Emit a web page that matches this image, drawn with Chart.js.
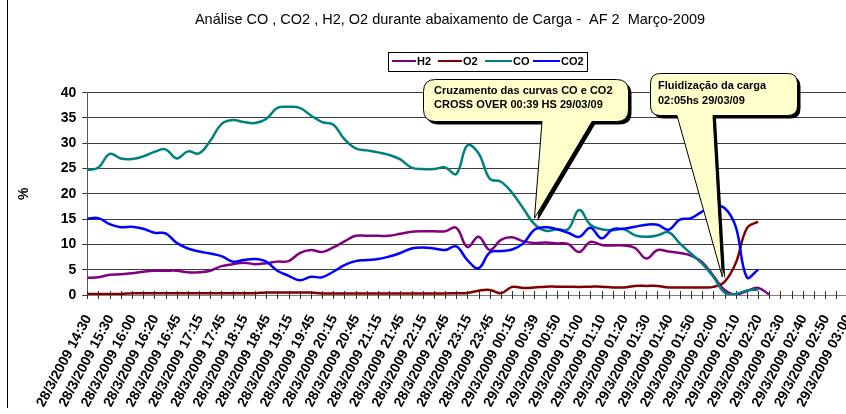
<!DOCTYPE html>
<html>
<head>
<meta charset="utf-8">
<title>Análise CO, CO2, H2, O2 - AF 2</title>
<style>
  html, body { margin: 0; padding: 0; overflow: hidden; background: #ffffff; }
  #wrap { position: relative; width: 900px; height: 414px; }
</style>
<script src="https://cdn.jsdelivr.net/npm/chart.js@4.4.1/dist/chart.umd.min.js"></script>
</head>
<body>
<div id="wrap"><canvas id="chart" width="900" height="414"></canvas></div>
<script>
// Sampling times shown on the category axis (every second sample is labelled)
const tickLabels = [
  '28/3/2009 14:30', '28/3/2009 15:30', '28/3/2009 16:00', '28/3/2009 16:20', '28/3/2009 16:45',
  '28/3/2009 17:15', '28/3/2009 17:45', '28/3/2009 18:15', '28/3/2009 18:45', '28/3/2009 19:15',
  '28/3/2009 19:45', '28/3/2009 20:15', '28/3/2009 20:45', '28/3/2009 21:15', '28/3/2009 21:45',
  '28/3/2009 22:15', '28/3/2009 22:45', '28/3/2009 23:15', '28/3/2009 23:45',
  '29/3/2009 00:15', '29/3/2009 00:39', '29/3/2009 00:50', '29/3/2009 01:00', '29/3/2009 01:10',
  '29/3/2009 01:20', '29/3/2009 01:30', '29/3/2009 01:40', '29/3/2009 01:50', '29/3/2009 02:00',
  '29/3/2009 02:10', '29/3/2009 02:20', '29/3/2009 02:30', '29/3/2009 02:40', '29/3/2009 02:50',
  '29/3/2009 03:00'
];

// Gas analysis, % by volume
const h2 = [3.4, 3.5, 4.0, 4.1, 4.3, 4.6, 4.8, 4.8, 4.8, 4.5,
            4.5, 4.8, 5.7, 6.1, 6.4, 6.1, 6.3, 6.6, 6.7, 8.3,
            8.9, 8.5, 9.4, 10.6, 11.7, 11.7, 11.7, 11.7, 12.1, 12.5,
            12.6, 12.6, 12.6, 13.3, 9.5, 11.5, 8.9, 10.9, 11.4, 10.6,
            10.3, 10.4, 10.2, 10.1, 8.5, 10.5, 9.9, 9.8, 9.8, 9.3,
            7.2, 8.9, 8.6, 8.3, 7.8, 6.5, 3.8, 1.0, 0.1, 0.8,
            1.4, 0.1];
const o2 = [0.2, 0.2, 0.2, 0.2, 0.35, 0.35, 0.35, 0.35, 0.35, 0.35,
            0.35, 0.35, 0.35, 0.35, 0.35, 0.35, 0.5, 0.5, 0.5, 0.5,
            0.5, 0.3, 0.3, 0.3, 0.3, 0.3, 0.3, 0.3, 0.3, 0.3,
            0.3, 0.3, 0.3, 0.35, 0.4, 0.85, 1.0, 0.35, 1.6, 1.4,
            1.5, 1.65, 1.65, 1.65, 1.6, 1.65, 1.65, 1.5, 1.5, 1.8,
            1.8, 1.8, 1.5, 1.5, 1.5, 1.5, 1.6, 2.6, 6.3, 13.2,
            14.5];
const co = [24.7, 25.2, 27.9, 27.0, 26.9, 27.4, 28.3, 28.8, 27.0, 28.4,
            28.0, 30.5, 33.8, 34.6, 34.2, 34.0, 34.8, 37.0, 37.2, 37.0,
            35.5, 34.2, 33.7, 30.8, 29.0, 28.6, 28.2, 27.7, 26.8, 25.2,
            24.9, 24.9, 25.2, 23.9, 29.6, 28.0, 23.0, 22.4, 20.2, 17.1,
            14.0, 12.7, 13.0, 13.0, 16.8, 13.9, 13.0, 12.8, 13.0, 11.8,
            11.5, 11.8, 12.4, 10.2, 8.2, 6.2, 3.6, 0.5, 0.2, 0.9,
            1.1];
const co2 = [15.1, 15.2, 14.0, 13.4, 13.5, 13.1, 12.3, 12.2, 10.3, 9.2,
             8.6, 8.2, 7.7, 6.6, 6.9, 7.1, 6.6, 4.8, 3.8, 2.9,
             3.6, 3.5, 4.6, 5.9, 6.7, 6.9, 7.1, 7.6, 8.3, 9.2,
             9.4, 9.2, 8.9, 9.6, 6.9, 5.3, 8.4, 8.7, 9.0, 10.2,
             12.9, 13.4, 13.0, 12.3, 11.5, 13.3, 11.2, 13.0, 13.1, 13.5,
             13.9, 13.9, 12.9, 14.9, 15.2, 16.5, 17.5, 17.2, 13.5, 3.5,
             5.0];

// One category per sample; only every second one carries a label
const categories = [];
tickLabels.forEach((t, k) => {
  categories.push(t);
  if (k < tickLabels.length - 1) categories.push('');
});

const FONT = "'Liberation Sans', Arial, Helvetica, sans-serif";
Chart.defaults.font.family = FONT;
Chart.defaults.color = '#000';

// Callout notes: [category index, value] of the pointed event
const crossOver = { at: 40, value: 15.2 };
const fluidization = { at: 56.8, value: 3.6 };

function calloutPath(ctx, b, tip, dx, dy) {
  const { x, y, w, h, r, baseL, baseR } = b;
  ctx.beginPath();
  ctx.moveTo(x + r + dx, y + dy);
  ctx.lineTo(x + w - r + dx, y + dy);
  ctx.quadraticCurveTo(x + w + dx, y + dy, x + w + dx, y + r + dy);
  ctx.lineTo(x + w + dx, y + h - r + dy);
  ctx.quadraticCurveTo(x + w + dx, y + h + dy, x + w - r + dx, y + h + dy);
  ctx.lineTo(baseR + dx, y + h + dy);
  ctx.lineTo(tip.x + dx, tip.y + dy);
  ctx.lineTo(baseL + dx, y + h + dy);
  ctx.lineTo(x + r + dx, y + h + dy);
  ctx.quadraticCurveTo(x + dx, y + h + dy, x + dx, y + h - r + dy);
  ctx.lineTo(x + dx, y + r + dy);
  ctx.quadraticCurveTo(x + dx, y + dy, x + r + dx, y + dy);
  ctx.closePath();
}

function drawCallout(ctx, b, tip, lines) {
  ctx.save();
  calloutPath(ctx, b, tip, 3, 3);
  ctx.fillStyle = '#000';
  ctx.fill();
  calloutPath(ctx, b, tip, 0, 0);
  ctx.fillStyle = '#ffffcc';
  ctx.fill();
  ctx.strokeStyle = '#000';
  ctx.lineWidth = 1;
  ctx.stroke();
  ctx.fillStyle = '#000';
  ctx.font = 'bold 11px ' + FONT;
  ctx.textBaseline = 'alphabetic';
  ctx.textAlign = 'left';
  lines.forEach((l) => ctx.fillText(l.text, l.x, l.y));
  ctx.restore();
}

const decor = {
  id: 'decor',
  beforeDatasetsDraw(chart) {
    const { ctx, scales: { x }, chartArea } = chart;
    ctx.save();
    ctx.strokeStyle = '#333';
    ctx.lineWidth = 1;
    ctx.beginPath();
    x.ticks.forEach((t, i) => {
      const px = Math.round(x.getPixelForTick(i)) + 0.5;
      ctx.moveTo(px, chartArea.bottom - 4);
      ctx.lineTo(px, chartArea.bottom + 4);
    });
    ctx.stroke();
    ctx.restore();
  },
  afterDraw(chart) {
    const { ctx, scales: { x, y } } = chart;
    ctx.save();
    // frame edge on the left
    ctx.strokeStyle = '#000';
    ctx.lineWidth = 1;
    ctx.beginPath();
    ctx.moveTo(7.5, 0);
    ctx.lineTo(7.5, 408);
    ctx.stroke();

    // legend box
    ctx.fillStyle = '#fff';
    ctx.fillRect(388.5, 52.5, 199, 19);
    ctx.strokeRect(388.5, 52.5, 199, 19);
    const items = [
      { ds: 0, x0: 392, x1: 416, tx: 417 },
      { ds: 1, x0: 438, x1: 462, tx: 463 },
      { ds: 2, x0: 485, x1: 512, tx: 513 },
      { ds: 3, x0: 533, x1: 560, tx: 561 }
    ];
    ctx.font = 'bold 11px ' + FONT;
    ctx.textBaseline = 'middle';
    ctx.textAlign = 'left';
    items.forEach((it) => {
      const ds = chart.data.datasets[it.ds];
      ctx.strokeStyle = ds.borderColor;
      ctx.lineWidth = 2;
      ctx.beginPath();
      ctx.moveTo(it.x0, 61);
      ctx.lineTo(it.x1, 61);
      ctx.stroke();
      ctx.fillStyle = '#000';
      ctx.fillText(ds.label, it.tx, 62);
    });
    ctx.restore();

    // callouts
    const tip1 = { x: x.getPixelForValue(crossOver.at), y: y.getPixelForValue(crossOver.value) };
    drawCallout(ctx, { x: 423.5, y: 79.5, w: 205, h: 42, r: 12, baseL: 542, baseR: 592 }, tip1, [
      { text: 'Cruzamento das curvas CO e CO2', x: 434, y: 94 },
      { text: 'CROSS OVER 00:39 HS 29/03/09', x: 434, y: 108 }
    ]);
    const tip2 = { x: x.getPixelForValue(fluidization.at), y: y.getPixelForValue(fluidization.value) };
    drawCallout(ctx, { x: 650.5, y: 73.5, w: 147, h: 42, r: 10, baseL: 677, baseR: 713 }, tip2, [
      { text: 'Fluidização da carga', x: 658, y: 89 },
      { text: '02:05hs 29/03/09', x: 658, y: 104 }
    ]);
  }
};

const line = (label, data, color, order) => ({
  label, data, order,
  borderColor: color,
  backgroundColor: color,
  borderWidth: 2.5,
  pointRadius: 0,
  pointHoverRadius: 0,
  tension: 0.4,
  fill: false
});

new Chart(document.getElementById('chart'), {
  type: 'line',
  data: {
    labels: categories,
    datasets: [
      line('H2', h2, '#800080', 4),
      line('O2', o2, '#800000', 3),
      line('CO', co, '#008080', 2),
      line('CO2', co2, '#0000ff', 1)
    ]
  },
  options: {
    responsive: false,
    animation: false,
    devicePixelRatio: 1,
    layout: { padding: { left: 52.5, right: 52.5, top: 0, bottom: 0 } },
    plugins: {
      legend: { display: false },
      tooltip: { enabled: false },
      title: {
        display: true,
        text: 'Análise CO , CO2 , H2, O2 durante abaixamento de Carga -  AF 2  Março-2009',
        color: '#000',
        font: { family: FONT, size: 14.5, weight: 'normal' },
        padding: { top: 11.3, bottom: 64 }
      }
    },
    scales: {
      x: {
        type: 'category',
        offset: false,
        grid: { drawOnChartArea: false, drawTicks: false },
        border: { display: true, color: '#808080', width: 1 },
        ticks: {
          autoSkip: false,
          minRotation: 62,
          maxRotation: 62,
          padding: 17,
          labelOffset: 1,
          color: '#000',
          font: { family: FONT, size: 14, weight: 'bold' }
        },
        afterFit(scale) { scale.height = 119; }
      },
      y: {
        min: 0,
        max: 40,
        ticks: {
          stepSize: 5,
          padding: 6,
          color: '#000',
          font: { family: FONT, size: 14, weight: 'bold' }
        },
        grid: {
          color: (c) => (c.tick && c.tick.value === 0 ? '#808080' : '#3c3c3c'),
          lineWidth: 1,
          drawTicks: true,
          tickLength: 5,
          tickColor: '#333'
        },
        border: { display: true, color: '#555', width: 1 },
        title: {
          display: true,
          text: '%',
          color: '#000',
          font: { family: FONT, size: 14, weight: 'bold' },
          padding: { top: -36.9, bottom: 0 }
        },
        afterFit(scale) { scale.width = 34.8; }
      }
    }
  },
  plugins: [decor]
});
</script>
</body>
</html>
